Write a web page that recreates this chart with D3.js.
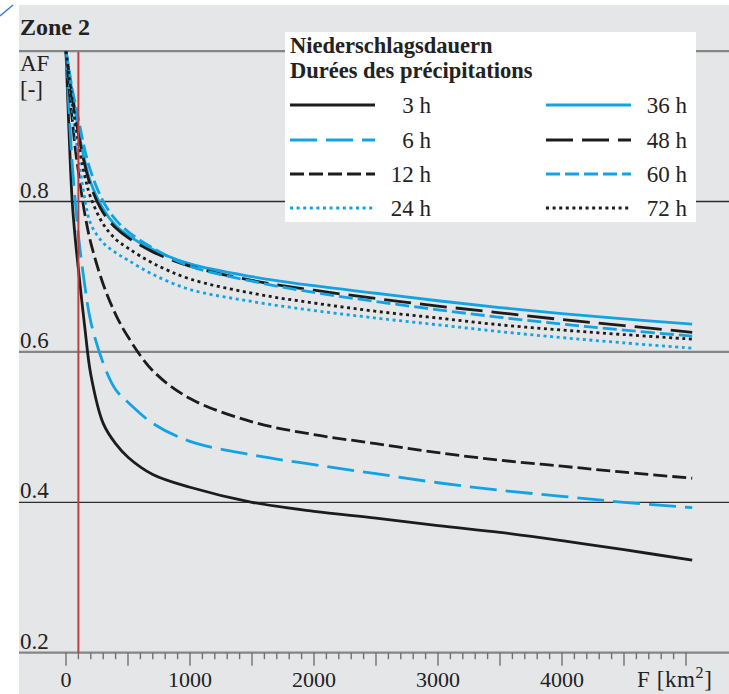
<!DOCTYPE html>
<html>
<head>
<meta charset="utf-8">
<script src="https://cdn.jsdelivr.net/npm/d3@7"></script>
<style>
  body { margin: 0; background: #fff; }
  svg text { font-family: "Liberation Serif", "Times New Roman", serif; fill: #222; }
</style>
</head>
<body>
<div id="my_chart"></div>
<script>

// ======================= //
// DATA
// ======================= //

// catchment area F [km2]
var areaF = [0, 25, 50, 75, 100, 150, 200, 300, 400, 500, 700, 1000, 1500, 2000, 2500, 3000, 3500, 4000, 4500, 5050]

// AF values for each precipitation duration
var af3h  = [1.0, 0.89, 0.80, 0.75, 0.71, 0.635, 0.57, 0.505, 0.478, 0.46, 0.437, 0.420, 0.400, 0.388, 0.379, 0.369, 0.360, 0.349, 0.337, 0.323]
var af6h  = [1.0, 0.92, 0.85, 0.80, 0.755, 0.69, 0.64, 0.585, 0.55, 0.533, 0.505, 0.481, 0.463, 0.450, 0.438, 0.426, 0.416, 0.408, 0.400, 0.393]
var af12h = [1.0, 0.95, 0.91, 0.87, 0.84, 0.785, 0.745, 0.69, 0.65, 0.62, 0.575, 0.538, 0.507, 0.49, 0.478, 0.466, 0.456, 0.448, 0.440, 0.432]
var af24h = [1.0, 0.96, 0.925, 0.89, 0.86, 0.805, 0.77, 0.745, 0.732, 0.722, 0.703, 0.683, 0.667, 0.655, 0.645, 0.636, 0.627, 0.619, 0.612, 0.605]
var af36h = [1.0, 0.97, 0.945, 0.92, 0.895, 0.855, 0.825, 0.79, 0.768, 0.755, 0.736, 0.717, 0.700, 0.688, 0.678, 0.668, 0.659, 0.651, 0.644, 0.637]
var af48h = [1.0, 0.97, 0.94, 0.915, 0.89, 0.85, 0.82, 0.785, 0.765, 0.752, 0.733, 0.714, 0.695, 0.682, 0.671, 0.661, 0.652, 0.643, 0.635, 0.626]
var af60h = [1.0, 0.975, 0.95, 0.93, 0.91, 0.87, 0.84, 0.80, 0.776, 0.76, 0.738, 0.714, 0.694, 0.679, 0.667, 0.656, 0.646, 0.637, 0.629, 0.621]
var af72h = [1.0, 0.965, 0.935, 0.905, 0.88, 0.835, 0.805, 0.77, 0.75, 0.738, 0.718, 0.697, 0.678, 0.665, 0.654, 0.645, 0.636, 0.629, 0.623, 0.617]

var durations = ["3 h", "6 h", "12 h", "24 h", "36 h", "48 h", "60 h", "72 h"]
var allSeries = [af3h, af6h, af12h, af24h, af36h, af48h, af60h, af72h]

// ticks
var yTicks = [0.2, 0.4, 0.6, 0.8, 1.0]
var yLabels = ["0.2", "0.4", "0.6", "0.8"]
var xLabels = [0, 1000, 2000, 3000, 4000]
var referenceF = 100


// ======================= //
// SVG AREA
// ======================= //

var width = 729, height = 694
var black = "#1c1c1c", blue = "#12a3e2"

// line style for each duration (same order as durations)
var styles = [
  {color: black, dash: null},
  {color: blue,  dash: "27,9"},
  {color: black, dash: "14,5"},
  {color: blue,  dash: "3,3.6"},
  {color: blue,  dash: null},
  {color: black, dash: "27,9"},
  {color: blue,  dash: "14,5"},
  {color: black, dash: "3,3.6"}
]

var svg = d3.select("#my_chart")
  .append("svg")
    .attr("width", width)
    .attr("height", height)

// grey panel
svg.append("rect")
  .attr("x", 19).attr("y", 5)
  .attr("width", width - 19).attr("height", height - 5)
  .style("fill", "#e5e6e8")

// small blue stroke in the corner
svg.append("line")
  .attr("x1", 0).attr("y1", 16).attr("x2", 13).attr("y2", 5)
  .attr("stroke", "#3b7bd6").attr("stroke-width", 1.5)


// ======================= //
// SCALES AND GRID
// ======================= //

var x = d3.scaleLinear()
  .domain([0, 5000])
  .range([66, 686])

var y = d3.scaleLinear()
  .domain([0.2, 1.0])
  .range([652.7, 51.1])

// horizontal lines (grey and dark alternate)
svg.selectAll("gridLine")
  .data(yTicks)
  .enter()
  .append("line")
    .attr("x1", 19)
    .attr("x2", width)
    .attr("y1", function(d){ return y(d) })
    .attr("y2", function(d){ return y(d) })
    .attr("stroke", function(d,i){ return i % 2 == 0 ? "#858585" : "#2e2e2e" })
    .attr("stroke-width", function(d,i){ return i % 2 == 0 ? 2.2 : 1.3 })

// y labels
svg.selectAll("yLabel")
  .data(yLabels)
  .enter()
  .append("text")
    .attr("x", 20)
    .attr("y", function(d){ return y(+d) - 4 })
    .text(function(d){ return d })
    .style("font-size", "23px")

svg.append("text").attr("x", 20).attr("y", 35)
  .text("Zone 2")
  .style("font-size", "24px").style("font-weight", "bold")
svg.append("text").attr("x", 20).attr("y", 71)
  .text("AF").style("font-size", "23px")
svg.append("text").attr("x", 20).attr("y", 97)
  .text("[-]").style("font-size", "23px")

// x ticks every 100, longer every 500
var xTickVals = d3.range(0, 5001, 100)
svg.selectAll("xTick")
  .data(xTickVals)
  .enter()
  .append("line")
    .attr("x1", function(d){ return x(d) })
    .attr("x2", function(d){ return x(d) })
    .attr("y1", y(0.2))
    .attr("y2", function(d){ return d % 500 == 0 ? y(0.2) + 13 : y(0.2) + 6.5 })
    .attr("stroke", "#707070")
    .attr("stroke-width", 1.4)

svg.selectAll("xLabel")
  .data(xLabels)
  .enter()
  .append("text")
    .attr("x", function(d){ return x(d) })
    .attr("y", 687)
    .attr("text-anchor", "middle")
    .text(function(d){ return d })
    .style("font-size", "22px")

var fLabel = svg.append("text").attr("x", 637).attr("y", 687)
  .style("font-size", "23px").style("letter-spacing", "0.6px")
fLabel.append("tspan").text("F [km")
fLabel.append("tspan").text("2").attr("dy", -9).style("font-size", "16px")
fLabel.append("tspan").text("]").attr("dy", 9)


// ======================= //
// CURVES
// ======================= //

var line = d3.line()
  .x(function(d){ return x(d[0]) })
  .y(function(d){ return y(d[1]) })
  .curve(d3.curveCatmullRom.alpha(0.5))

svg.selectAll("curve")
  .data(allSeries)
  .enter()
  .append("path")
    .attr("d", function(s){ return line(areaF.map(function(f,i){ return [f, s[i]] })) })
    .attr("fill", "none")
    .attr("stroke", function(s,i){ return styles[i].color })
    .attr("stroke-width", 2.8)
    .style("stroke-dasharray", function(s,i){ return styles[i].dash })

// red reference line at F = 100 km2
svg.append("line")
  .attr("x1", x(referenceF)).attr("x2", x(referenceF))
  .attr("y1", y(1.0) + 1).attr("y2", y(0.2))
  .attr("stroke", "#c63b3b")
  .attr("stroke-width", 2)


// ======================= //
// LEGEND
// ======================= //

svg.append("rect")
  .attr("x", 285).attr("y", 32)
  .attr("width", 411).attr("height", 190)
  .style("fill", "#ffffff")

svg.append("text").attr("x", 290).attr("y", 53)
  .text("Niederschlagsdauern")
  .style("font-size", "22.5px").style("font-weight", "bold")
svg.append("text").attr("x", 290).attr("y", 78)
  .text("Durées des précipitations")
  .style("font-size", "22.5px").style("font-weight", "bold")

var legendRows = [105, 140, 174, 208]
var legend = svg.selectAll("legendItem")
  .data(durations)
  .enter()
  .append("g")
    .attr("transform", function(d,i){
      var col = Math.floor(i / 4), row = i % 4
      return "translate(" + (col == 0 ? 290 : 546) + "," + legendRows[row] + ")"
    })

legend.append("line")
  .attr("x1", 0).attr("x2", 85)
  .attr("y1", 0).attr("y2", 0)
  .attr("stroke", function(d,i){ return styles[i].color })
  .attr("stroke-width", 2.8)
  .style("stroke-dasharray", function(d,i){ return styles[i].dash })

legend.append("text")
  .attr("x", 141)
  .attr("y", 8)
  .attr("text-anchor", "end")
  .text(function(d){ return d })
  .style("font-size", "23px")

</script>
</body>
</html>
